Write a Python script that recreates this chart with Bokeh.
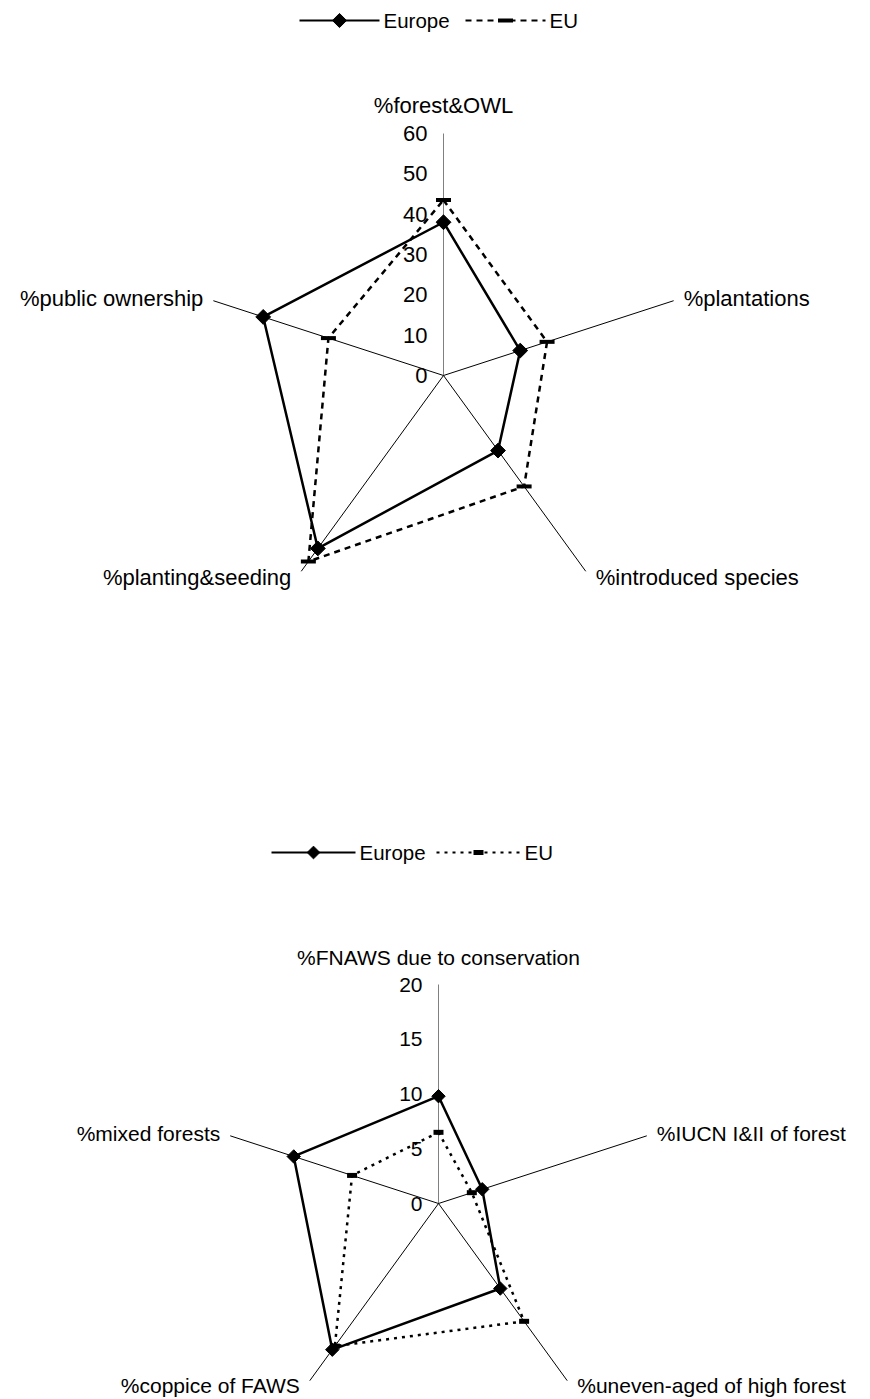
import math
from bokeh.plotting import figure
from bokeh.models import Range1d
from bokeh.embed import file_html
from bokeh.resources import INLINE
from bokeh.core.properties import value

# ---------------- data ----------------
series_names = ["Europe", "EU"]

categories_top = ["%forest&OWL", "%plantations", "%introduced species",
                  "%planting&seeding", "%public ownership"]
europe_top = [38, 20, 23, 53, 47]
eu_top = [43.5, 27, 34, 57, 30]
ticks_top = [0, 10, 20, 30, 40, 50, 60]

categories_bottom = ["%FNAWS due to conservation", "%IUCN I&II of forest",
                     "%uneven-aged of  high forest", "%coppice of FAWS",
                     "%mixed forests"]
europe_bottom = [9.8, 4.2, 9.6, 16.5, 13.9]
eu_bottom = [6.5, 3.2, 13.3, 16.1, 8.3]
ticks_bottom = [0, 5, 10, 15, 20]

FONT = value("Liberation Sans")

W, H = 868, 1398
p = figure(width=W, height=H, x_range=Range1d(0, W), y_range=Range1d(H, 0),
           x_axis_location=None, y_axis_location=None, toolbar_location=None,
           output_backend="svg", min_border=0, outline_line_color=None,
           background_fill_color="white", border_fill_color="white")
p.xgrid.visible = False
p.ygrid.visible = False


def radar(cx, cy, radius, vmax, cats, eur, eu, ticks, fs, eu_dash, eu_w, eu_h,
          dsize, low_dy):
    n = len(cats)
    s = radius / vmax
    angs = [math.radians(90 - 360.0 * i / n) for i in range(n)]

    def pt(i, v):
        return cx + v * s * math.cos(angs[i]), cy - v * s * math.sin(angs[i])

    # spokes
    for i in range(n):
        ex, ey = pt(i, vmax)
        col = "#808080" if i == 0 else "#000000"
        p.line([cx, ex], [cy, ey], line_color=col, line_width=1)
    # tick labels
    p.text(x=[cx - 16] * len(ticks), y=[cy - t * s for t in ticks],
           text=[str(t) for t in ticks], text_align="right", text_baseline="middle",
           text_font=FONT, text_font_size=value(fs), text_color="black")
    # category labels
    for i, c in enumerate(cats):
        ex, ey = pt(i, vmax)
        ca = math.cos(angs[i])
        sa = math.sin(angs[i])
        if abs(ca) < 0.1:
            p.text(x=[ex], y=[ey - 16], text=[c], text_align="center",
                   text_baseline="bottom", text_font=FONT, text_font_size=value(fs))
        else:
            align = "left" if ca > 0 else "right"
            dx = 10 if ca > 0 else -10
            dy = -2 if sa > 0 else low_dy
            p.text(x=[ex + dx], y=[ey + dy], text=[c], text_align=align,
                   text_baseline="middle", text_font=FONT, text_font_size=value(fs))
    # series
    eux = [pt(i, v)[0] for i, v in enumerate(eu)]
    euy = [pt(i, v)[1] for i, v in enumerate(eu)]
    p.line(eux + eux[:1], euy + euy[:1], line_color="black", line_width=2.5,
           line_dash=eu_dash)
    ex_ = [pt(i, v)[0] for i, v in enumerate(eur)]
    ey_ = [pt(i, v)[1] for i, v in enumerate(eur)]
    p.line(ex_ + ex_[:1], ey_ + ey_[:1], line_color="black", line_width=2.5)
    p.rect(x=eux, y=euy, width=eu_w, height=eu_h, width_units="screen",
           height_units="screen", fill_color="black", line_color=None)
    p.scatter(x=ex_, y=ey_, marker="square", angle=math.pi / 4, size=dsize,
              fill_color="black", line_color="black", line_width=1)


def legend(y, x_eur, x_eu, half, fs, eu_dash, eu_w, eu_h, dsize):
    p.line([x_eur - half, x_eur + half], [y, y], line_color="black", line_width=2)
    p.scatter(x=[x_eur], y=[y], marker="square", angle=math.pi / 4, size=dsize,
              fill_color="black", line_color="black")
    p.text(x=[x_eur + half + 4], y=[y], text=[series_names[0]], text_align="left",
           text_baseline="middle", text_font=FONT, text_font_size=value(fs))
    p.line([x_eu - half, x_eu + half], [y, y], line_color="black", line_width=2,
           line_dash=eu_dash)
    p.rect(x=[x_eu], y=[y], width=eu_w, height=eu_h, width_units="screen",
           height_units="screen", fill_color="black", line_color=None)
    p.text(x=[x_eu + half + 4], y=[y], text=[series_names[1]], text_align="left",
           text_baseline="middle", text_font=FONT, text_font_size=value(fs))


legend(20, 339, 505, 40, "20.5px", "6 5", 15, 4, 10)
radar(443, 375, 242, 60, categories_top, europe_top, eu_top, ticks_top, "22px",
      "6 5", 15, 4, 10.5, 6)

legend(852, 313, 478, 42, "20.5px", "3 5", 10, 5, 9)
radar(438, 1203, 219, 20, categories_bottom, europe_bottom, eu_bottom, ticks_bottom,
      "21px", "3 5", 10, 5, 9.5, 5)

open("out.html", "w").write(file_html(p, INLINE))
